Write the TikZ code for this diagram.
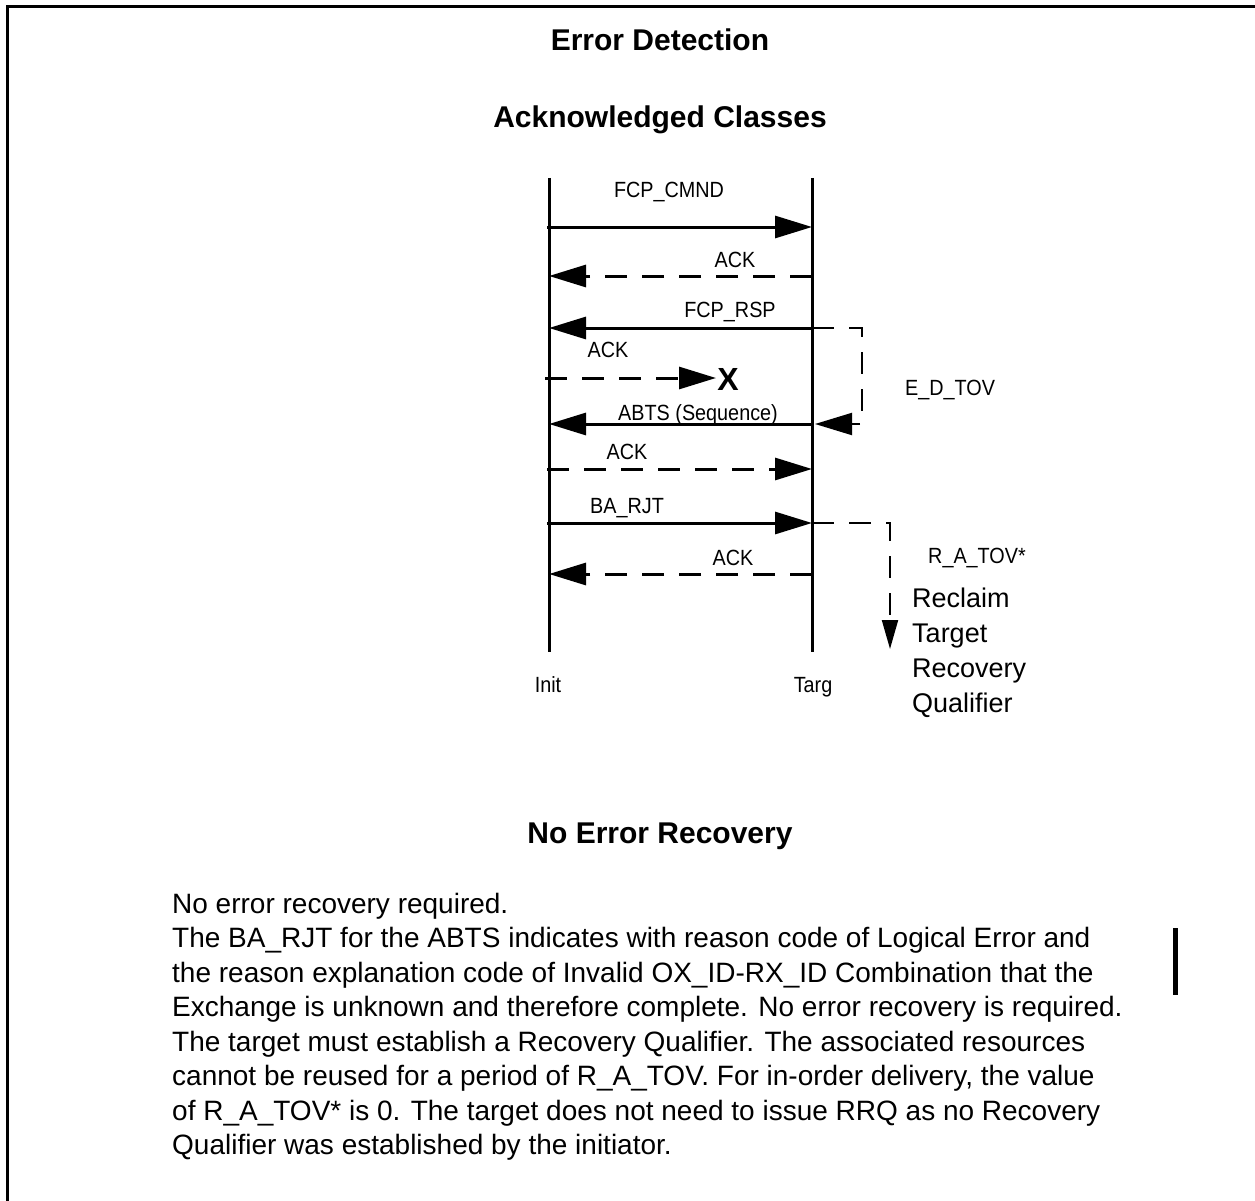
\documentclass[tikz,border=0pt]{standalone}
\usepackage{fontspec}
\setmainfont{Liberation Sans}
\newfontfamily\lblfont[FakeStretch=0.9]{Liberation Sans}
\usetikzlibrary{arrows.meta}

\begin{document}
\begin{tikzpicture}[x=1pt,y=-1pt,
  frameline/.style={line width=3pt},
  lifeline/.style={line width=3pt},
  bighead/.style={-{Triangle[length=37pt,width=22pt]}},
  msgsolid/.style={line width=3pt,bighead},
  msgdash/.style={line width=3pt,dash pattern=on 22pt off 15pt,bighead},
  timer/.style={line width=2pt,dash pattern=on 22pt off 15pt},
  lbl/.style={inner sep=0pt,font=\lblfont\fontsize{22}{26}\selectfont},
  heading/.style={inner sep=0pt,anchor=base,font=\bfseries\fontsize{30}{36}\selectfont},
  bodytext/.style={inner sep=0pt,align=left,font=\fontsize{28}{34.5}\selectfont},
]
\useasboundingbox (0,0) rectangle (1255,1201);

% page frame (top and left edges)
\draw[frameline] (7.5,1201) -- (7.5,6.5) -- (1255,6.5);

% headings
\node[heading] (h1) at (660,51) {Error Detection};
\node[heading] (h2) at (660,128) {Acknowledged Classes};
\node[heading] (h3) at (660,843) {No Error Recovery};

% lifelines
\coordinate (iTop) at (549,178);
\coordinate (iBot) at (549,652);
\coordinate (tTop) at (812,178);
\coordinate (tBot) at (812,652);
\draw[lifeline] (iTop) -- (iBot);
\draw[lifeline] (tTop) -- (tBot);
\node[lbl,anchor=base] (init) at (548,692) {Init};
\node[lbl,anchor=base] (targ) at (813,692) {Targ};

% message end points on the lifelines
\coordinate (i1) at (547,227);  \coordinate (t1) at (812,227);
\coordinate (i2) at (549,276);  \coordinate (t2) at (812,276);
\coordinate (i3) at (549,328);  \coordinate (t3) at (812,328);
\coordinate (i4) at (545,378);  \coordinate (x4) at (716,378);
\coordinate (i5) at (549,424);  \coordinate (t5) at (812,424);
\coordinate (i6) at (547,469);  \coordinate (t6) at (812,469);
\coordinate (i7) at (547,523);  \coordinate (t7) at (812,523);
\coordinate (i8) at (549,574);  \coordinate (t8) at (812,574);

% messages
\draw[msgsolid] (i1) -- (t1);
\node[lbl,anchor=base] (m1) at (669,198) {FCP\_CMND};

\draw[msgdash] (t2) -- (i2);
\node[lbl,anchor=base] (m2) at (735,267) {ACK};

\draw[msgsolid] (t3) -- (i3);
\node[lbl,anchor=base] (m3) at (730,317) {FCP\_RSP};

\draw[msgdash] (i4) -- (x4);
\node[lbl,anchor=base] (m4) at (608,357) {ACK};
\node[inner sep=0pt,font=\bfseries\fontsize{32}{38}\selectfont] (lostx) at (728,379) {X};

\draw[msgsolid] (t5) -- (i5);
\node[lbl,anchor=base] (m5) at (698,420) {ABTS (Sequence)};

\draw[msgdash] (i6) -- (t6);
\node[lbl,anchor=base] (m6) at (627,459) {ACK};

\draw[msgsolid] (i7) -- (t7);
\node[lbl,anchor=base] (m7) at (627,513) {BA\_RJT};

\draw[msgdash] (t8) -- (i8);
\node[lbl,anchor=base] (m8) at (733,565) {ACK};

% E_D_TOV timer
\coordinate (ed1) at (862,328);
\coordinate (ed2) at (862,424);
\coordinate (ed3) at (815,424);
\draw[timer,bighead] (t3) -- (ed1) -- (ed2) -- (ed3);
\node[lbl,anchor=base west] (edtov) at (905,395) {E\_D\_TOV};

% R_A_TOV timer
\coordinate (ra1) at (890,523);
\coordinate (ra2) at (890,649);
\draw[timer,-{Triangle[length=29pt,width=16pt]}] (t7) -- (ra1) -- (ra2);
\node[lbl,anchor=base west] (ratov) at (928,563) {R\_A\_TOV*};
\node[inner sep=0pt,anchor=north west,align=left,
      font=\fontsize{27}{35}\selectfont] (reclaim) at (912,587.5)
  {Reclaim\\Target\\Recovery\\Qualifier};

% explanation
\node[bodytext,anchor=north west] (body) at (172,892.7)
  {No error recovery required.\\
   The BA\_RJT for the ABTS indicates with reason code of Logical Error and\\
   the reason explanation code of Invalid OX\_ID-RX\_ID Combination that the\\
   Exchange is unknown and therefore complete. No error recovery is required.\\
   The target must establish a Recovery Qualifier. The associated resources\\
   cannot be reused for a period of R\_A\_TOV. For in-order delivery, the value\\
   of R\_A\_TOV* is 0. The target does not need to issue RRQ as no Recovery\\
   Qualifier was established by the initiator.};

% change bar
\draw[line width=5pt] (1175,928) -- (1175,995);
\end{tikzpicture}
\end{document}
